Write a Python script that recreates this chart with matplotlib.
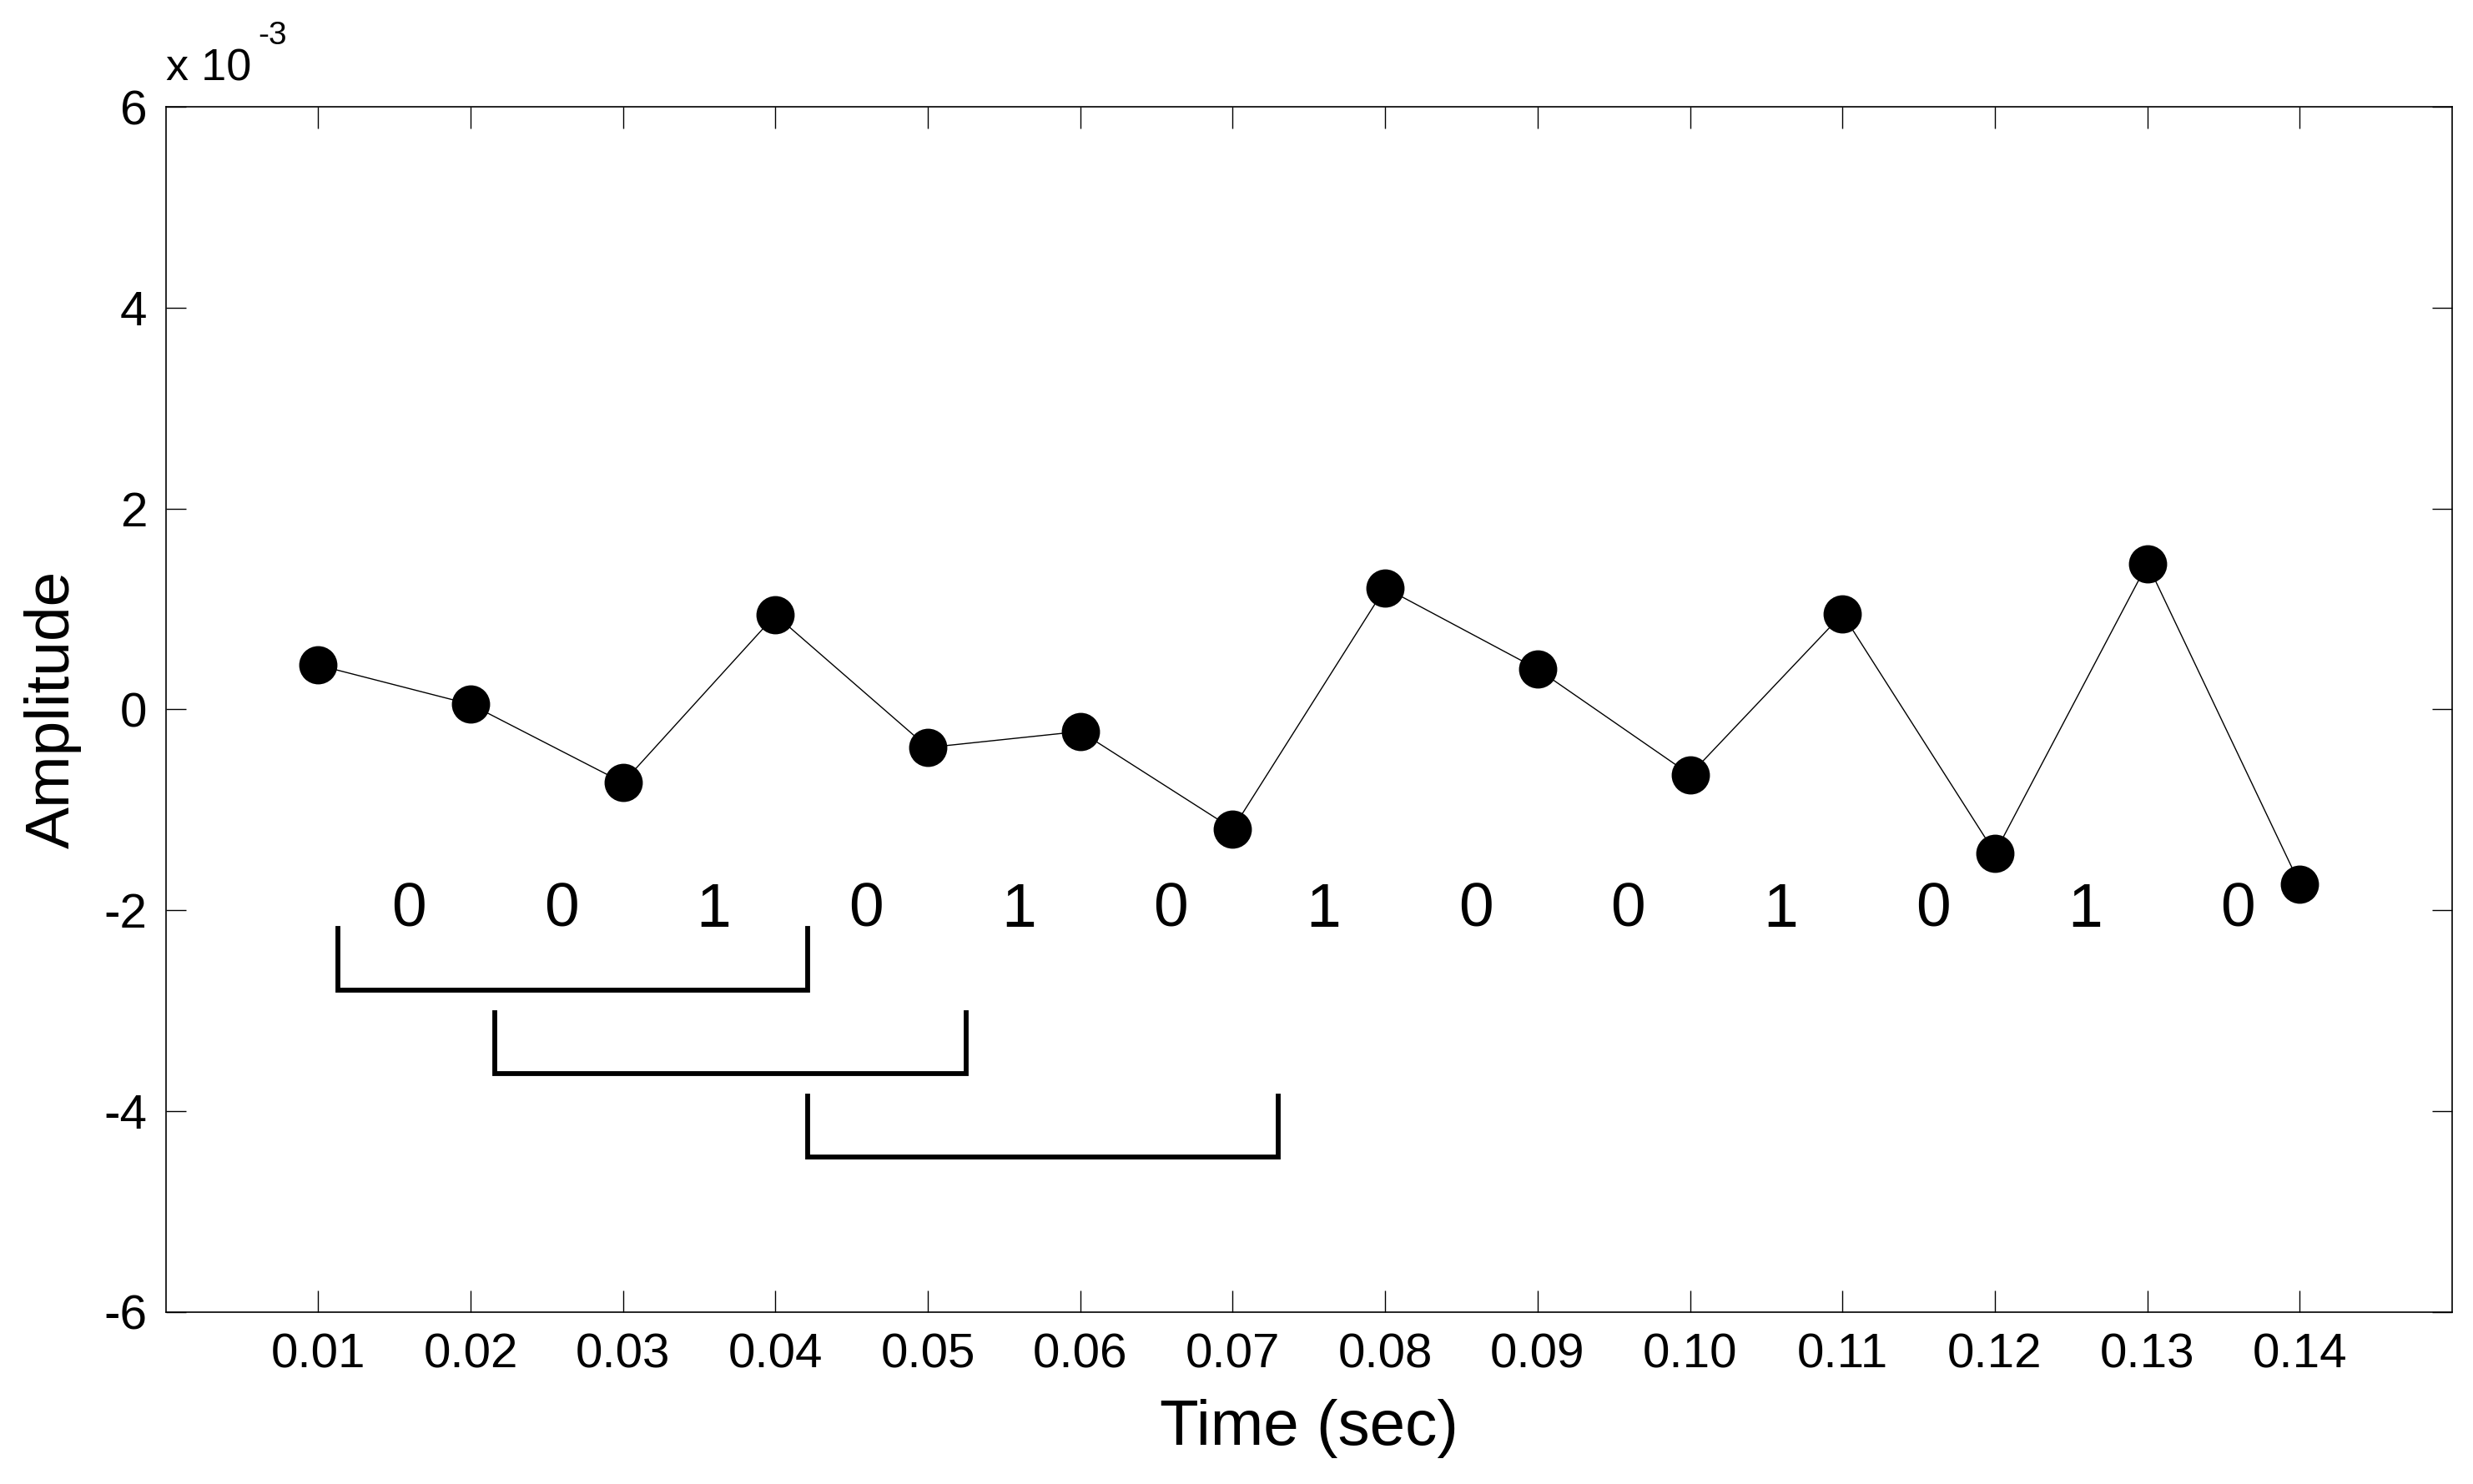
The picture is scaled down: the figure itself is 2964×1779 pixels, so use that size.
"""Sampled signal with the bit pattern and three sliding windows drawn under it."""

import matplotlib

matplotlib.use("Agg")
import matplotlib.pyplot as plt
from matplotlib.ticker import FixedLocator, FuncFormatter

# sample times (sec) and amplitudes
times = [0.01, 0.02, 0.03, 0.04, 0.05, 0.06, 0.07, 0.08, 0.09, 0.10, 0.11, 0.12, 0.13, 0.14]
amplitudes = [0.44e-3, 0.05e-3, -0.73e-3, 0.94e-3, -0.38e-3, -0.22e-3, -1.19e-3,
              1.21e-3, 0.40e-3, -0.65e-3, 0.95e-3, -1.43e-3, 1.45e-3, -1.74e-3]

# bit written between each pair of samples
bits = ["0", "0", "1", "0", "1", "0", "1", "0", "0", "1", "0", "1", "0"]
bit_level = -2.0e-3

# window brackets: start/end time, top of the side ticks, bottom bar
bracket_starts = [0.0113, 0.0216, 0.0421]
bracket_ends = [0.0421, 0.0525, 0.0730]
bracket_tops = [-2.18e-3, -3.02e-3, -3.85e-3]
bracket_bottoms = [-2.80e-3, -3.63e-3, -4.46e-3]

y_ticks = [-6e-3, -4e-3, -2e-3, 0.0, 2e-3, 4e-3, 6e-3]


def main():
    plt.rcParams["font.family"] = ["Liberation Sans", "DejaVu Sans"]

    fig = plt.figure(figsize=(14.82, 8.895), dpi=200)
    ax = fig.add_axes([0.067, 0.116, 0.9246, 0.812])

    ax.plot(times, amplitudes, "-", color="black", linewidth=0.5,
            marker="o", markersize=15.5, markerfacecolor="black",
            markeredgecolor="black")

    for t, b in zip(times[:-1], bits):
        ax.text(t + 0.0048, bit_level, b, ha="left", va="center", fontsize=27)

    for x0, x1, yt, yb in zip(bracket_starts, bracket_ends, bracket_tops, bracket_bottoms):
        ax.plot([x0, x0, x1, x1], [yt, yb, yb, yt], "-", color="black",
                linewidth=2.1, solid_joinstyle="miter")

    ax.set_xlim(0.0, 0.15)
    ax.set_ylim(-6e-3, 6e-3)
    ax.xaxis.set_major_locator(FixedLocator(times))
    ax.xaxis.set_major_formatter(FuncFormatter(lambda v, p: f"{v:.2f}"))
    ax.yaxis.set_major_locator(FixedLocator(y_ticks))
    ax.yaxis.set_major_formatter(FuncFormatter(lambda v, p: f"{round(v * 1e3):d}"))

    ax.tick_params(axis="both", direction="in", top=True, right=True,
                   width=0.5, labelsize=21)
    ax.tick_params(axis="x", length=9.5, pad=9)
    ax.tick_params(axis="y", length=8.7, pad=8)
    for spine in ax.spines.values():
        spine.set_linewidth(0.6)

    ax.set_xlabel("Time (sec)", fontsize=27.5)
    ax.xaxis.set_label_coords(0.5, -0.072)
    ax.set_ylabel("Amplitude", fontsize=27)
    ax.yaxis.set_label_coords(-0.0367, 0.5)

    # MATLAB style exponent label above the y axis
    ax.text(0.0, 1.022, "x 10", transform=ax.transAxes, ha="left",
            va="baseline", fontsize=19.5)
    ax.text(0.0405, 1.052, "-3", transform=ax.transAxes, ha="left",
            va="baseline", fontsize=14)

    fig.savefig("out.png", dpi=200, facecolor="white")


if __name__ == "__main__":
    main()
